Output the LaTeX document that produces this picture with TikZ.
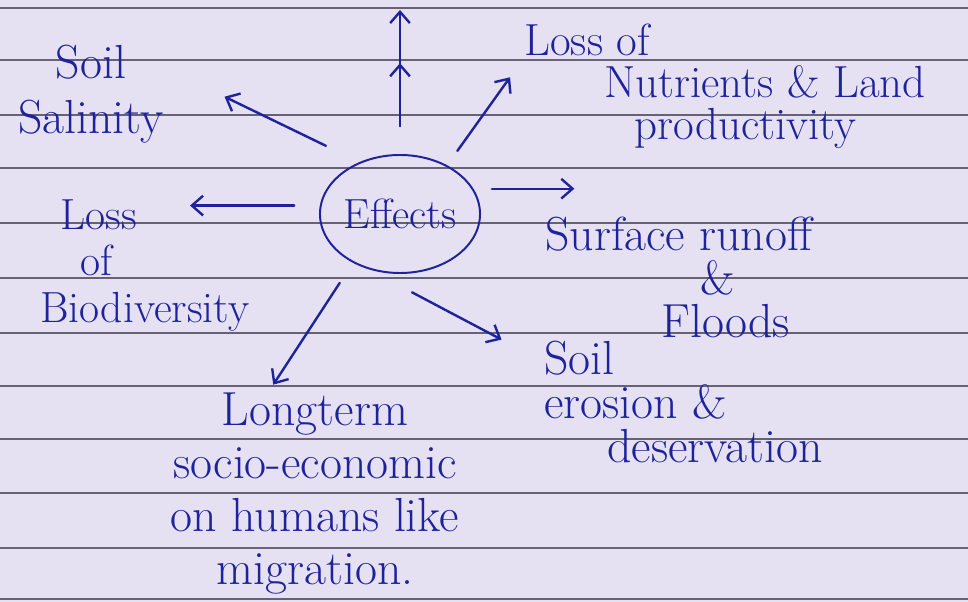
\documentclass[tikz,border=0pt]{standalone}
\usetikzlibrary{shapes.geometric, arrows.meta, positioning}
\definecolor{paper}{RGB}{229,225,243}
\definecolor{ink}{RGB}{30,34,155}
\definecolor{rule}{RGB}{100,98,116}
\newcommand\handfont[2]{\fontsize{#1}{#2}\selectfont}
\tikzset{
  effect/.style={ellipse, draw=ink, line width=1.4pt, text=ink,
                 minimum width=4cm, minimum height=2.95cm, inner sep=0pt,
                 font=\handfont{30pt}{33pt}},
  note/.style={text=ink, inner sep=0pt},
  arrow/.style={-{Straight Barb[length=8pt, width=14pt]}, draw=ink,
                line width=1.7pt, line cap=round},
  ruling/.style={draw=rule, line width=0.9pt},
}

\begin{document}
\begin{tikzpicture}[x=0.025cm, y=-0.025cm]

  % =====================================================
  % PAPER
  % =====================================================

  \fill[paper] (0,0) rectangle (968,602);
  \useasboundingbox (0,0) rectangle (968,602);

  \foreach \y in {8,60,115,168,223,278,333,386,439,493,548,599}
    \draw[ruling] (0,\y) -- (968,\y);


  % =====================================================
  % CENTRE AND EFFECTS
  % =====================================================

  \node[effect] (eff) at (400,214) {Effects};

  \node[note, font=\handfont{34pt}{39pt}, align=center]
    (sal) at (91,94) {Soil\\Salinity};

  \node[note, font=\handfont{32pt}{30pt}, align=left, anchor=west]
    (nut) at (524,86)
    {Loss of\\\hspace*{2cm}Nutrients \& Land\\\hspace*{2.75cm}productivity};

  \node[note, font=\handfont{34pt}{31pt}, align=left, anchor=west]
    (surf) at (545,277.5)
    {Surface runoff\\\hspace*{3.875cm}\&\\\hspace*{2.9cm}Floods};

  \node[note, font=\handfont{31pt}{33pt}, align=left, anchor=west]
    (bio) at (40,265.5)
    {\hspace*{0.5cm}Loss\\\hspace*{1cm}of\\Biodiversity};

  \node[note, font=\handfont{34pt}{31pt}, align=left, anchor=west]
    (ero) at (544,402)
    {Soil\\erosion \&\\\hspace*{1.58cm}deservation};

  \node[note, font=\handfont{34pt}{37.6pt}, align=center]
    (long) at (315,493.5)
    {Longterm\\socio-economic\\on humans like\\migration.};

  \coordinate (upend) at (400,10);


  % =====================================================
  % ARROWS
  % =====================================================

  \draw[arrow, shorten <=0.7cm]
    (eff.north) -- (upend);

  \draw[arrow, shorten <=0.7cm, shorten >=1.33cm]
    (eff.north) -- (upend);

  \draw[arrow, shorten <=0.93cm, shorten >=1.68cm]
    (eff.128) -- (sal.20);

  \draw[arrow, shorten <=0.44cm, shorten >=0.6cm]
    (eff.46) -- (nut.172);

  \draw[arrow, shorten <=0.46cm, shorten >=2.61cm]
    (eff.19) -- (eff.19 -| surf.north);

  \draw[arrow, shorten <=0.64cm, shorten >=3.75cm]
    (eff.174) -- (eff.174 -| bio.west);

  \draw[arrow, shorten <=1.24cm, shorten >=1.2cm]
    (eff.240) -- (ero.164);

  \draw[arrow, shorten <=0.6cm, shorten >=0.24cm]
    (eff.226) -- (long.115);

\end{tikzpicture}
\end{document}
